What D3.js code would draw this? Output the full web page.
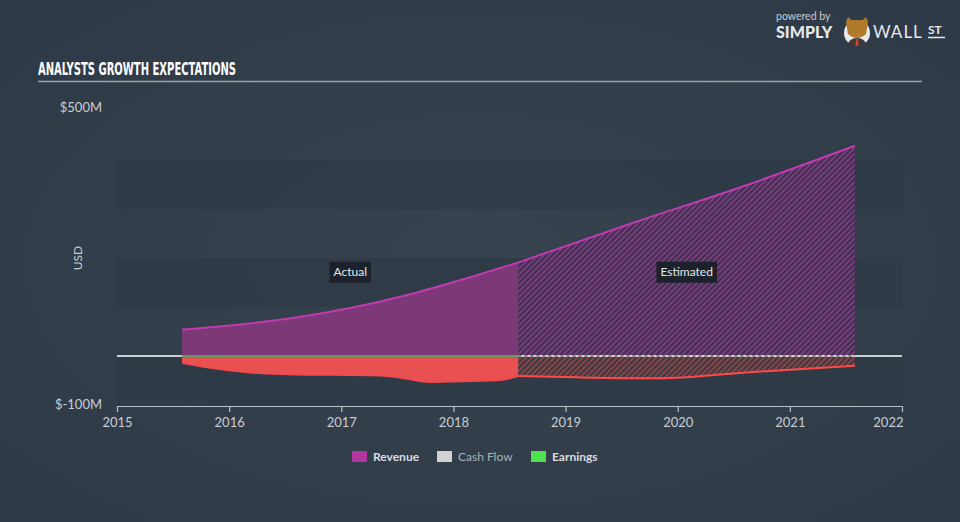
<!DOCTYPE html>
<html><head><meta charset="utf-8">
<script src="https://cdn.jsdelivr.net/npm/d3@7"></script>
<style>html,body{margin:0;padding:0;background:#333f4c;} svg{display:block}</style>
</head><body><svg id="c" width="960" height="522"></svg>
<script>
// ---- data ----
const xTickYears = [2015, 2016, 2017, 2018, 2019, 2020, 2021, 2022];
const yTickLabels = ["$500M", "$-100M"];
const yTickValues = [500, -100];
const revActualDates = [2015.58, 2016.08, 2016.58, 2017.08, 2017.58, 2018.08, 2018.58];
const revActualValues = [54, 64, 78, 98, 124, 156, 191];
const revEstDates = [2018.58, 2019.58, 2020.58, 2021.58];
const revEstValues = [191, 270, 346, 429];
const earnActualDates = [2015.58, 2015.77, 2016.21, 2016.52, 2017.35, 2017.55, 2017.79, 2018.15, 2018.42, 2018.58];
const earnActualValues = [-14, -22, -34, -37, -40, -45, -53, -51, -49, -41];
const earnEstDates = [2018.58, 2019.10, 2019.84, 2020.58, 2021.58];
const earnEstValues = [-41, -43.5, -45.5, -34, -20];
const legendNames = ["Revenue", "Cash Flow", "Earnings"];
const legendColors = ["#b0379f", "#d2d2d2", "#4fe04f"];
const legendTextColors = ["#d8dce0", "#a9b0b8", "#d8dce0"];
const bandRanges = [[300, 400], [100, 200], [-100, 0]];

const svg = d3.select("#c");
const W = 960, H = 522;
const defs = svg.append("defs");

const bg = defs.append("radialGradient").attr("id", "bg").attr("cx", "50%").attr("cy", "50%").attr("r", "65%");
bg.append("stop").attr("offset", "0%").attr("stop-color", "#37444f");
bg.append("stop").attr("offset", "100%").attr("stop-color", "#2e3a47");
svg.append("rect").attr("width", W).attr("height", H).attr("fill", "url(#bg)");

function hatch(id, base, stripe) {
  const p = defs.append("pattern").attr("id", id).attr("patternUnits", "userSpaceOnUse")
    .attr("width", 4).attr("height", 4).attr("patternTransform", "rotate(45)");
  p.append("rect").attr("width", 4).attr("height", 4).attr("fill", base);
  p.append("rect").attr("width", 2).attr("height", 4).attr("fill", stripe);
}
hatch("revHatch", "#3a3350", "#7e3a7c");
hatch("earnHatch", "#3a3a44", "#8a4446");

const x = d3.scaleLinear().domain([2015, 2022]).range([117, 902]);
const y = d3.scaleLinear().domain([-100, 500]).range([405, 111]);

// bands
svg.append("g").selectAll("rect").data(bandRanges).join("rect")
  .attr("x", x(2015)).attr("width", x(2022) - x(2015))
  .attr("y", d => y(d[1])).attr("height", d => y(d[0]) - y(d[1]))
  .attr("fill", "#2d3946").attr("opacity", 0.75);

// title
svg.append("text").attr("x", 38).attr("y", 75)
  .attr("font-family", "'Liberation Sans Narrow','DejaVu Sans Condensed',sans-serif")
  .attr("font-weight", "bold").attr("font-size", 17).attr("fill", "#ffffff")
  .attr("textLength", 198).attr("lengthAdjust", "spacingAndGlyphs")
  .text("ANALYSTS GROWTH EXPECTATIONS");
svg.append("line").attr("x1", 38).attr("x2", 922).attr("y1", 81.5).attr("y2", 81.5)
  .attr("stroke", "#9aa3ad").attr("stroke-width", 1.5);

// logo
const lg = svg.append("g").attr("font-family", "Lato, sans-serif");
lg.append("text").attr("x", 776).attr("y", 20).attr("font-size", 10.5).attr("fill", "#c6cbd0").text("powered by");
lg.append("text").attr("x", 776).attr("y", 38).attr("font-size", 16).attr("font-weight", "900").attr("fill", "#e6e8ea").text("SIMPLY");
lg.append("circle").attr("cx", 857).attr("cy", 33).attr("r", 13).attr("fill", "#e6e8ea");
lg.append("path").attr("d", "M846,22 Q848,14 851,20 L863,20 Q866,14 868,22 L866,34 Q857,42 848,34 Z").attr("fill", "#b07a2a");
lg.append("path").attr("d", "M847,46 Q849,38 857,38 Q865,38 867,46 Z").attr("fill", "#3a3a3a");
lg.append("path").attr("d", "M856,39 L858,39 L858.5,46 L855.5,46 Z").attr("fill", "#d8402a");
lg.append("text").attr("x", 873).attr("y", 38).attr("font-size", 17).attr("fill", "#e6e8ea").attr("letter-spacing", 1).text("WALL");
lg.append("text").attr("x", 928).attr("y", 34).attr("font-size", 12).attr("font-weight", "bold").attr("fill", "#e6e8ea").text("ST");
lg.append("line").attr("x1", 928).attr("x2", 945).attr("y1", 37.5).attr("y2", 37.5).attr("stroke", "#e6e8ea").attr("stroke-width", 1.5);

// y labels
svg.append("g").selectAll("text").data(yTickValues).join("text")
  .attr("x", 102).attr("y", (d, i) => y(d) + (i === 0 ? 1 : 4))
  .attr("text-anchor", "end").attr("font-family", "Lato, sans-serif").attr("font-size", 13)
  .attr("fill", "#c9cdd2").text((d, i) => yTickLabels[i]);
svg.append("text").attr("transform", `translate(82,${y(200)}) rotate(-90)`)
  .attr("text-anchor", "middle").attr("font-family", "Lato, sans-serif").attr("font-size", 12)
  .attr("fill", "#c9cdd2").text("USD");

// x axis
const xAxis = d3.axisBottom(x).tickValues(xTickYears).tickFormat(d3.format("d")).tickSize(6).tickSizeOuter(0);
const gx = svg.append("g").attr("transform", `translate(0,${y(-100) + 1})`).call(xAxis);
gx.select(".domain").attr("stroke", "#b9bfc6").attr("stroke-width", 1.2);
gx.selectAll(".tick line").attr("stroke", "#b9bfc6").attr("stroke-width", 1.2);
gx.selectAll(".tick text").attr("fill", "#c9cdd2").attr("font-family", "Lato, sans-serif").attr("font-size", 13).attr("dy", "0.95em");
gx.selectAll(".tick text").filter(d => d === 2022).attr("text-anchor", "end").attr("dx", 1);

// areas
const pts = (ds, vs) => ds.map((d, i) => [d, vs[i]]);
const area = d3.area().x(d => x(d[0])).y0(y(0)).y1(d => y(d[1])).curve(d3.curveMonotoneX);
const line = d3.line().x(d => x(d[0])).y(d => y(d[1])).curve(d3.curveMonotoneX);

const revA = pts(revActualDates, revActualValues), revE = pts(revEstDates, revEstValues);
const earnA = pts(earnActualDates, earnActualValues), earnE = pts(earnEstDates, earnEstValues);

svg.append("path").datum(revA).attr("d", area).attr("fill", "#7c3877");
svg.append("path").datum(revE).attr("d", area).attr("fill", "url(#revHatch)");
svg.append("path").datum(earnA).attr("d", area).attr("fill", "#e85052");
svg.append("path").datum(earnE).attr("d", area).attr("fill", "url(#earnHatch)");

svg.append("path").datum(revA).attr("d", line).attr("fill", "none").attr("stroke", "#c13bb0").attr("stroke-width", 2);
svg.append("path").datum(revE).attr("d", line).attr("fill", "none").attr("stroke", "#c13bb0").attr("stroke-width", 2);
svg.append("path").datum(earnA).attr("d", line).attr("fill", "none").attr("stroke", "#f04a4c").attr("stroke-width", 2);
svg.append("path").datum(earnE).attr("d", line).attr("fill", "none").attr("stroke", "#ff4a4a").attr("stroke-width", 2);

// zero lines
svg.append("line").attr("x1", x(2015)).attr("x2", x(2022)).attr("y1", y(0)).attr("y2", y(0))
  .attr("stroke", "#ffffff").attr("stroke-width", 1.5);
svg.append("line").attr("x1", x(revActualDates[0])).attr("x2", x(revEstDates[0])).attr("y1", y(0)).attr("y2", y(0))
  .attr("stroke", "#5aa05a").attr("stroke-width", 2);
svg.append("line").attr("x1", x(revEstDates[0])).attr("x2", x(revEstDates[revEstDates.length - 1])).attr("y1", y(0)).attr("y2", y(0))
  .attr("stroke", "#6a6a6a").attr("stroke-width", 1.5).attr("stroke-dasharray", "3,3");

// Actual / Estimated labels
function tag(cx, cy, txt) {
  const g = svg.append("g");
  const t = g.append("text").attr("x", cx).attr("y", cy).attr("text-anchor", "middle").attr("dy", "0.35em")
    .attr("font-family", "Lato, sans-serif").attr("font-size", 12).attr("fill", "#e4e6e8").text(txt);
  const b = t.node().getBBox();
  g.insert("rect", "text").attr("x", b.x - 4).attr("y", cy - 10.5).attr("width", b.width + 8).attr("height", 21).attr("fill", "#1c222b");
}
tag((x(revActualDates[0]) + x(revEstDates[0])) / 2, y(171), "Actual");
tag((x(revEstDates[0]) + x(revEstDates[revEstDates.length - 1])) / 2, y(171), "Estimated");

// legend
const legendX = [352, 437, 531];
const lgd = svg.append("g");
legendNames.forEach((n, i) => {
  lgd.append("rect").attr("x", legendX[i]).attr("y", 451).attr("width", 15).attr("height", 11).attr("fill", legendColors[i]);
  lgd.append("text").attr("x", legendX[i] + 21).attr("y", 456.5).attr("dy", "0.35em")
    .attr("font-family", "Lato, sans-serif").attr("font-size", 12).attr("font-weight", i === 1 ? "normal" : "bold")
    .attr("fill", legendTextColors[i]).text(n);
});
</script>
</body></html>
